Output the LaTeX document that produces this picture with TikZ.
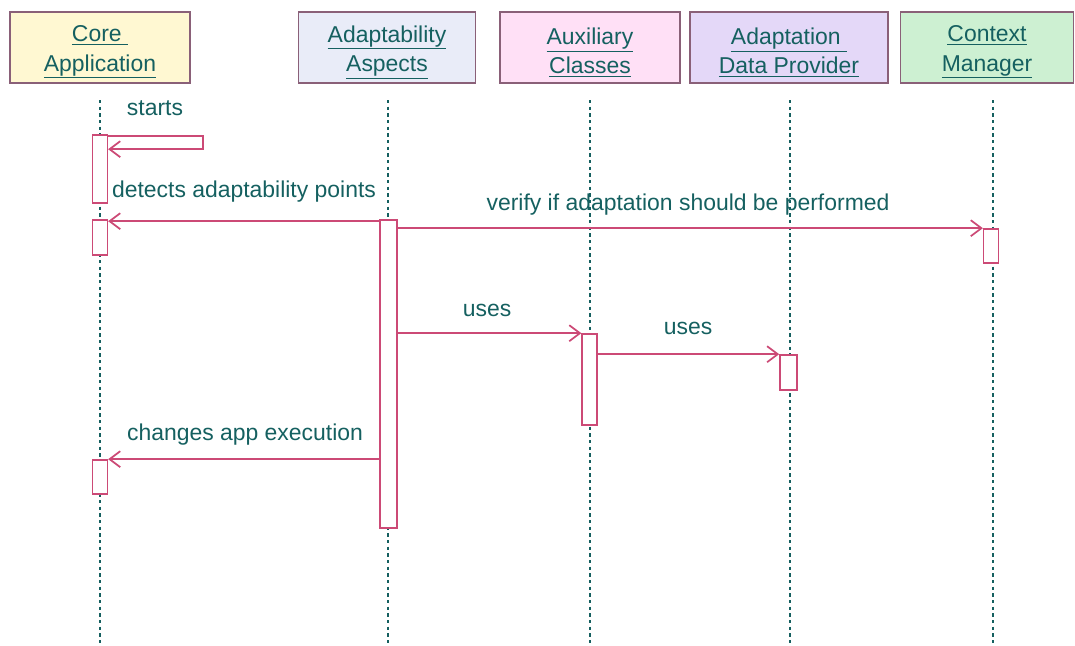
\documentclass[tikz,border=0pt]{standalone}
\usepackage{fontspec}
\setmainfont{Liberation Sans}
\usetikzlibrary{arrows.meta}
\definecolor{txt}{HTML}{156060}
\definecolor{ln}{HTML}{CC4A76}
\definecolor{bd}{HTML}{8A6078}
\definecolor{fcore}{HTML}{FFF8D2}
\definecolor{fasp}{HTML}{E9ECF8}
\definecolor{faux}{HTML}{FFE0F6}
\definecolor{fadp}{HTML}{E4D8F8}
\definecolor{fctx}{HTML}{CDF0D2}
\begin{document}
\begin{tikzpicture}[x=0.75pt,y=-0.75pt,
  hdr/.style={draw=bd, line width=1.2pt, minimum height=53.25pt, inner sep=0pt},
  htxt/.style={align=center, text=txt, font=\fontsize{17.2}{22}\selectfont, inner sep=0pt},
  act/.style={draw=ln, fill=white, line width=1.2pt, minimum width=11pt, inner sep=0pt},
  life/.style={txt, line width=1.5pt, dash pattern=on 2.5pt off 2.5pt},
  msg/.style={ln, line width=1.3pt, -{Straight Barb[length=8pt,width=12pt]}},
  lbl/.style={text=txt, font=\fontsize{17.2}{20}\selectfont, inner sep=0pt}]
\useasboundingbox (0,0) rectangle (1075,646);
% headers
\node[hdr, fill=fcore, minimum width=135pt] (core) at (100,47.5) {};
\node[hdr, fill=fasp, minimum width=132.75pt] (asp) at (387,47.5) {};
\node[hdr, fill=faux, minimum width=135pt] (aux) at (590,47.5) {};
\node[hdr, fill=fadp, minimum width=148.5pt] (adp) at (789,47.5) {};
\node[hdr, fill=fctx, minimum width=130pt] (ctx) at (987,47.5) {};
\node[htxt] (tcore) at ([yshift=-3.5pt]core.center) {\underline{Core }\\\underline{Application}};
\node[htxt] (tasp) at ([yshift=-3.5pt]asp.center) {\underline{Adaptability}\\\underline{Aspects}};
\node[htxt] (taux) at ([yshift=-3.5pt]aux.center) {\underline{Auxiliary}\\\underline{Classes}};
\node[htxt] (tadp) at ([yshift=-3.5pt]adp.center) {\underline{Adaptation }\\\underline{Data Provider}};
\node[htxt] (tctx) at ([yshift=-3.5pt]ctx.center) {\underline{Context}\\\underline{Manager}};
% lifeline ends
\coordinate (lt1) at (100,100); \coordinate (lb1) at (100,646);
\coordinate (lt2) at (388,100); \coordinate (lb2) at (388,646);
\coordinate (lt3) at (590,100); \coordinate (lb3) at (590,646);
\coordinate (lt4) at (790,100); \coordinate (lb4) at (790,646);
\coordinate (lt5) at (993,100); \coordinate (lb5) at (993,646);
\foreach \i in {1,...,5} { \draw[life] (lt\i) -- (lb\i); }
% activations
\node[act, minimum height=51pt] (a1) at (100,169) {};
\node[act, minimum height=26.25pt] (a2) at (100,237.5) {};
\node[act, minimum height=25.5pt] (a3) at (100,477) {};
\node[act, minimum width=12.75pt, minimum height=231pt] (as) at (388.5,374) {};
\node[act, minimum height=25.5pt] (cx) at (991,246) {};
\node[act, minimum height=68.25pt] (ax) at (589.5,379.5) {};
\node[act, minimum width=12.75pt, minimum height=26.25pt] (ad) at (788.5,372.5) {};
% messages
\draw[msg] ([yshift=-1.5pt]a1.north east) -- ++(95,0) -- ++(0,13) -- ([yshift=-11.25pt]a1.north east);
\draw[msg] ([yshift=-1.5pt]as.north west) -- ([yshift=-1.5pt]a2.north east);
\draw[msg] (as.east |- cx.north) -- (cx.north west);
\draw[msg] (as.east |- ax.north) -- (ax.north west);
\draw[msg] (ax.east |- ad.north) -- (ad.north west);
\draw[msg] (as.west |- a3.north) -- (a3.north east);
% labels
\node[lbl] (l1) at (155,108) {starts};
\node[lbl] (l2) at (244,192) {detects adaptability points};
\node[lbl] (l3) at (688,205) {verify if adaptation should be performed};
\node[lbl] (l4) at (487,310) {uses};
\node[lbl] (l5) at (688,328) {uses};
\node[lbl] (l6) at (245,435) {changes app execution};
\end{tikzpicture}
\end{document}
